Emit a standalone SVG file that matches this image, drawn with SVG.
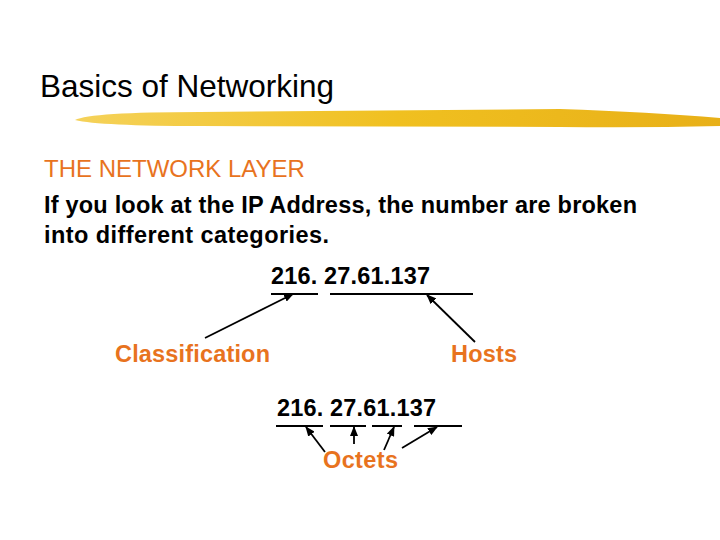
<svg xmlns="http://www.w3.org/2000/svg" width="720" height="540" viewBox="0 0 720 540">
<style>
.t{font-family:"Liberation Sans",Arial,sans-serif}
.o{fill:#E8731E;font-weight:bold;font-size:23.5px}
.b{fill:#000;font-weight:bold;font-size:23.5px}
.l{stroke:#000;stroke-width:2;fill:none}
.a{stroke:#000;stroke-width:1.8;fill:none;marker-end:url(#ar)}
</style>
<defs>
<marker id="ar" markerWidth="10" markerHeight="8" refX="9" refY="4" orient="auto" markerUnits="userSpaceOnUse"><path d="M0,0 L10,4 L0,8 z" fill="#000"/></marker>
<linearGradient id="g" x1="0" x2="1"><stop offset="0" stop-color="#F5D25A"/><stop offset="0.5" stop-color="#F0C020"/><stop offset="1" stop-color="#E8B018"/></linearGradient>
</defs>
<rect width="720" height="540" fill="#fff"/>
<text class="t" x="40" y="97" font-size="31.5" fill="#000">Basics of Networking</text>
<path d="M75,120 Q90,112 200,112 L560,109 Q650,112 720,118 L720,126 Q640,128 560,127 L200,126 Q100,126 75,120 z" fill="url(#g)"/>
<text class="t" x="44" y="177" font-size="24" fill="#E8731E">THE NETWORK LAYER</text>
<text class="t b" x="44" y="213" textLength="593">If you look at the IP Address, the number are broken</text>
<text class="t b" x="44" y="243" textLength="285">into different categories.</text>
<g id="ip1"><text class="t b" x="271" y="284" textLength="159">216. 27.61.137</text>
<path class="l" d="M271,294 H318 M330,294 H473"/></g>
<g id="classification"><text class="t o" x="115" y="362" textLength="155">Classification</text></g>
<g id="hosts"><text class="t o" x="451" y="362" textLength="66">Hosts</text></g>
<g id="ip2"><text class="t b" x="277" y="416" textLength="159">216. 27.61.137</text>
<path class="l" d="M276,426 H323 M330,426 H366 M372,426 H402 M414,426 H462"/></g>
<g id="octets"><text class="t o" x="323" y="468" textLength="75">Octets</text></g>
<g id="connectors">
<path class="a" d="M205,338 L293,294"/>
<path class="a" d="M475,342 L427,295"/>
<path class="a" d="M325,452 L306,427"/>
<path class="a" d="M354,444 L354,427"/>
<path class="a" d="M384,450 L394,427"/>
<path class="a" d="M402,448 L437,427"/>
</g>
</svg>
